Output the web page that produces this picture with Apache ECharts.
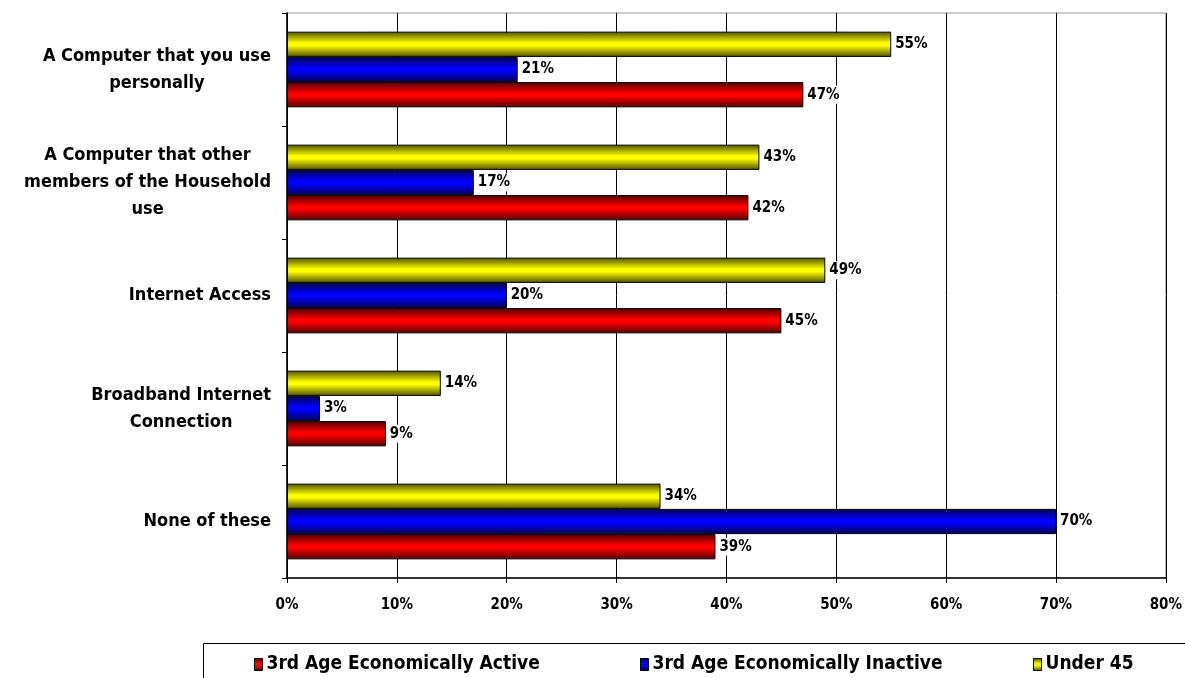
<!DOCTYPE html>
<html>
<head>
<meta charset="utf-8">
<script src="https://cdn.jsdelivr.net/npm/echarts@6/dist/echarts.min.js"></script>
<style>html,body{margin:0;padding:0;background:#fff}#c{width:1185px;height:678px}</style>
</head>
<body>
<div id="c"></div>
<script>
const categories = [
  "A Computer that you use\npersonally",
  "A Computer that other\nmembers of the Household\nuse",
  "Internet Access",
  "Broadband Internet\nConnection",
  "None of these"
];
const seriesNames = ["3rd Age Economically Active", "3rd Age Economically Inactive", "Under 45"];
const activeVals = [47, 42, 45, 9, 39];
const inactiveVals = [21, 17, 20, 3, 70];
const under45Vals = [55, 43, 49, 14, 34];

const FONT = '"Liberation Sans Narrow", "DejaVu Sans Condensed", "Liberation Sans", Arial, sans-serif';

function grad(dark, bright) {
  return new echarts.graphic.LinearGradient(0, 0, 0, 1, [
    {offset: 0, color: dark},
    {offset: 0.45, color: bright},
    {offset: 0.55, color: bright},
    {offset: 1, color: dark}
  ]);
}
const colors = [
  ['#500000', '#ff0000'],
  ['#000050', '#0000ff'],
  ['#505000', '#ffff00']
];
const flat = ['#ff0000', '#0000ff', '#ffff00'];
const vals = [activeVals, inactiveVals, under45Vals];

const chart = echarts.init(document.getElementById('c'));
const series = vals.map((v, i) => ({
  name: seriesNames[i],
  type: 'bar',
  data: v,
  barGap: '0%',
  barCategoryGap: '33%',
  itemStyle: {color: grad(colors[i][0], colors[i][1]), borderColor: '#000', borderWidth: 1},
  label: {
    show: true, position: 'right', distance: 2,
    formatter: '{c}%',
    fontFamily: FONT, fontWeight: 'bold', fontSize: 15, color: '#000',
    backgroundColor: '#fff', padding: [2, 2, 1, 2]
  },
  emphasis: {disabled: true},
  z: 3
})).reverse();

const legendLefts = [254, 640, 1033];
const legends = seriesNames.map((n, i) => ({
  data: [n],
  left: legendLefts[i], top: 655,
  itemWidth: 8, itemHeight: 12, itemGap: 0,
  icon: 'rect', padding: 0,
  itemStyle: {borderColor: '#000', borderWidth: 1},
  textStyle: {fontFamily: FONT, fontWeight: 'bold', fontSize: 19, color: '#000', padding: [0, 0, 0, -1]}
}));

chart.setOption({
  animation: false,
  color: flat,
  grid: {left: 287, right: 17, top: 13, bottom: 100, show: true, borderColor: '#999', borderWidth: 1},
  xAxis: {
    type: 'value', min: 0, max: 80, interval: 10,
    axisLine: {show: true, lineStyle: {color: '#000', width: 1.5}},
    axisTick: {show: true, length: 5, lineStyle: {color: '#000'}},
    splitLine: {show: true, lineStyle: {color: '#000', width: 1}},
    axisLabel: {formatter: '{value}%', fontFamily: FONT, fontWeight: 'bold', fontSize: 15, color: '#000', margin: 20}
  },
  yAxis: {
    type: 'category', data: categories, inverse: true,
    axisLine: {show: true, lineStyle: {color: '#000', width: 1.5}},
    axisTick: {show: true, length: 5, lineStyle: {color: '#000'}},
    axisLabel: {
      margin: 16, align: 'right',
      fontFamily: FONT, fontWeight: 'bold', fontSize: 18, color: '#000', lineHeight: 27,
      formatter: function (v) { return v.split('\n').map(s => '{c|' + s + '}').join('\n'); },
      rich: {c: {align: 'center', fontFamily: FONT, fontWeight: 'bold', fontSize: 18, color: '#000', lineHeight: 27}}
    }
  },
  legend: legends,
  graphic: [{
    type: 'rect', shape: {x: 203.5, y: 643.5, width: 1100, height: 60},
    style: {fill: 'none', stroke: '#000', lineWidth: 1}, z: 0
  }],
  series: series
});
</script>
</body>
</html>
